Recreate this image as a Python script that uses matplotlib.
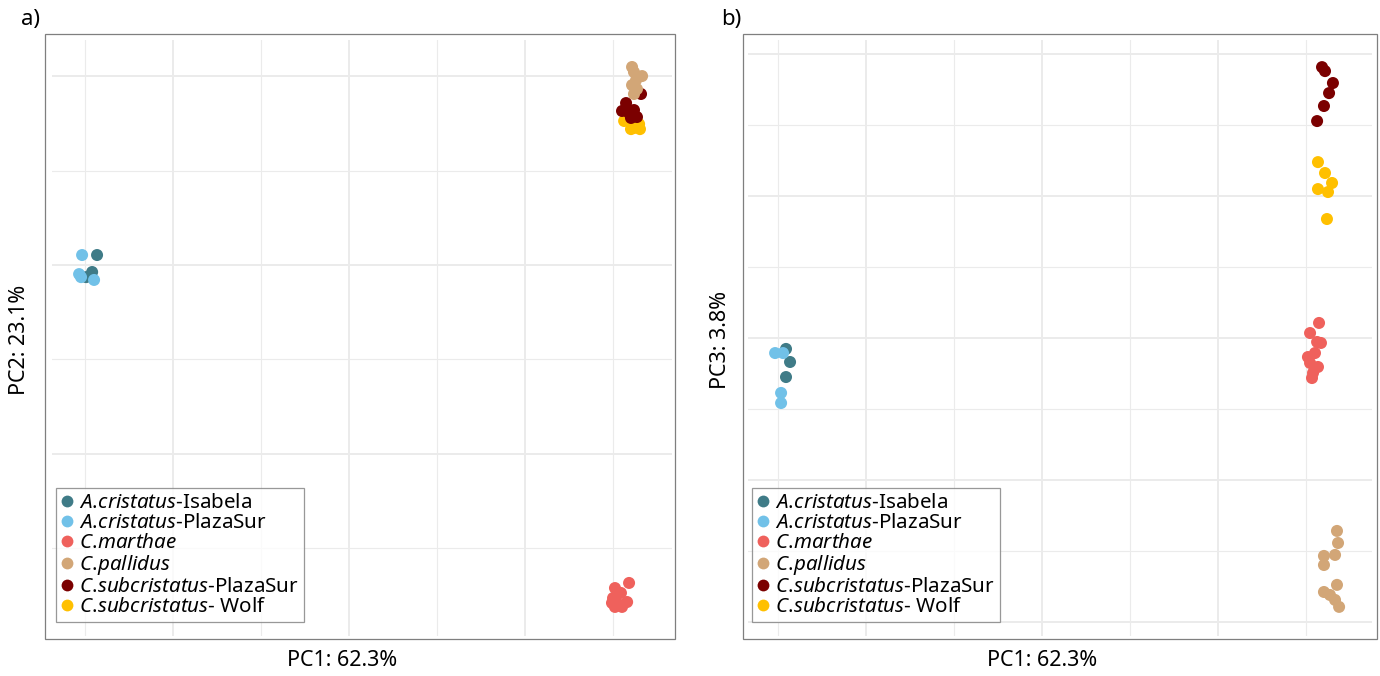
import matplotlib
matplotlib.use("Agg")
import matplotlib.pyplot as plt
from matplotlib.patches import Rectangle
from matplotlib.lines import Line2D

plt.rcParams['font.family'] = ['Noto Sans', 'DejaVu Sans']
plt.rcParams['mathtext.fontset'] = 'custom'
plt.rcParams['mathtext.it'] = 'Noto Sans:italic'
plt.rcParams['mathtext.rm'] = 'Noto Sans'

# group names and colours (legend order)
groups = ['A.cristatus-Isabela', 'A.cristatus-PlazaSur', 'C.marthae',
          'C.pallidus', 'C.subcristatus-PlazaSur', 'C.subcristatus- Wolf']
labels = [r'$\mathit{A.\!cristatus}$-Isabela', r'$\mathit{A.\!cristatus}$-PlazaSur',
          r'$\mathit{C.\!marthae}$', r'$\mathit{C.\!pallidus}$',
          r'$\mathit{C.\!subcristatus}$-PlazaSur', r'$\mathit{C.\!subcristatus}$- Wolf']
colors = ['#3F7B87', '#71C1E8', '#EF615C', '#D2A677', '#7B0000', '#FFC000']

# PC1 / PC2 scores
pc1_a = {
    'A.cristatus-Isabela': [-0.1432, -0.1460, -0.1494],
    'A.cristatus-PlazaSur': [-0.1517, -0.1534, -0.1523, -0.1449],
    'C.marthae': [0.1591, 0.1511, 0.1545, 0.1500, 0.1580, 0.1523, 0.1494, 0.1551, 0.1511],
    'C.pallidus': [0.1608, 0.1619, 0.1665, 0.1631, 0.1608, 0.1636, 0.1619],
    'C.subcristatus-PlazaSur': [0.1659, 0.1574, 0.1551, 0.1619, 0.1636, 0.1602, 0.1591],
    'C.subcristatus- Wolf': [0.1563, 0.1619, 0.1653, 0.1602, 0.1648],
}
pc2_a = {
    'A.cristatus-Isabela': [0.0053, -0.0037, -0.0064],
    'A.cristatus-PlazaSur': [0.0053, -0.0048, -0.0064, -0.0079],
    'C.marthae': [-0.1684, -0.1711, -0.1737, -0.1764, -0.1785, -0.1790, -0.1790, -0.1811, -0.1811],
    'C.pallidus': [0.1049, 0.1022, 0.1001, 0.0980, 0.0953, 0.0932, 0.0906],
    'C.subcristatus-PlazaSur': [0.0906, 0.0858, 0.0816, 0.0821, 0.0784, 0.0779, 0.0805],
    'C.subcristatus- Wolf': [0.0763, 0.0726, 0.0720, 0.0720, 0.0747],
}

# PC1 / PC3 scores
pc1_b = {
    'A.cristatus-Isabela': [-0.1455, -0.1432, -0.1455],
    'A.cristatus-PlazaSur': [-0.1517, -0.1472, -0.1483, -0.1483],
    'C.marthae': [0.1574, 0.1523, 0.1563, 0.1585, 0.1551, 0.1511, 0.1523, 0.1568, 0.1540, 0.1534],
    'C.pallidus': [0.1676, 0.1682, 0.1665, 0.1602, 0.1602, 0.1676, 0.1602, 0.1636, 0.1665, 0.1688],
    'C.subcristatus-PlazaSur': [0.1591, 0.1608, 0.1653, 0.1631, 0.1602, 0.1563],
    'C.subcristatus- Wolf': [0.1568, 0.1608, 0.1648, 0.1568, 0.1625, 0.1619],
}
pc3_b = {
    'A.cristatus-Isabela': [-0.0077, -0.0169, -0.0275],
    'A.cristatus-PlazaSur': [-0.0106, -0.0106, -0.0387, -0.0458],
    'C.marthae': [0.0106, 0.0035, -0.0028, -0.0035, -0.0106, -0.0134, -0.0176, -0.0204, -0.0246, -0.0282],
    'C.pallidus': [-0.1359, -0.1444, -0.1528, -0.1535, -0.1599, -0.1739, -0.1789, -0.1810, -0.1845, -0.1894],
    'C.subcristatus-PlazaSur': [0.1908, 0.1880, 0.1796, 0.1725, 0.1634, 0.1528],
    'C.subcristatus- Wolf': [0.1239, 0.1162, 0.1092, 0.1049, 0.1028, 0.0838],
}

# drawing order (later ones on top)
draw_order = ['C.marthae', 'C.subcristatus- Wolf', 'C.subcristatus-PlazaSur',
              'C.pallidus', 'A.cristatus-Isabela', 'A.cristatus-PlazaSur']

W, H = 1380, 676
fig = plt.figure(figsize=(W / 100, H / 100), dpi=100)


def px_box(x0, y0, x1, y1):
    return [x0 / W, 1 - y1 / H, (x1 - x0) / W, (y1 - y0) / H]


def setup(ax, xlim, ylim, xmaj, xmin, ymaj, ymin):
    ax.set_xlim(*xlim)
    ax.set_ylim(*ylim)
    ax.set_xticks(xmaj)
    ax.set_xticks(xmin, minor=True)
    ax.set_yticks(ymaj)
    ax.set_yticks(ymin, minor=True)
    ax.grid(which='major', color='#EBEBEB', linewidth=1.4)
    ax.grid(which='minor', color='#EBEBEB', linewidth=0.8)
    ax.set_axisbelow(True)
    ax.tick_params(which='both', length=0, labelbottom=False, labelleft=False)
    for s in ax.spines.values():
        s.set_visible(False)


def draw(ax, xs, ys):
    for g in draw_order:
        ax.scatter(xs[g], ys[g], s=75, color=colors[groups.index(g)],
                   edgecolors='none', zorder=3)


handles = [Line2D([], [], marker='o', linestyle='none', markersize=8.5,
                  markerfacecolor=c, markeredgecolor='none') for c in colors]

# panel a
ax_a = fig.add_axes(px_box(52, 40, 672, 636))
setup(ax_a, (-0.1688, 0.1835), (-0.1965, 0.1192),
      [-0.1, 0, 0.1], [-0.15, -0.05, 0.05, 0.15],
      [-0.1, 0, 0.1], [-0.15, -0.05, 0.05])
draw(ax_a, pc1_a, pc2_a)
fig.patches.append(Rectangle((45 / W, 1 - 639 / H), 630 / W, 605 / H,
                             transform=fig.transFigure, fill=False,
                             edgecolor='#7F7F7F', linewidth=0.9))

# panel b
ax_b = fig.add_axes(px_box(748, 40, 1372, 636))
setup(ax_b, (-0.1671, 0.1875), (-0.2099, 0.2099),
      [-0.1, 0, 0.1], [-0.15, -0.05, 0.05, 0.15],
      [-0.2, -0.1, 0, 0.1, 0.2], [-0.15, -0.05, 0.05, 0.15])
draw(ax_b, pc1_b, pc3_b)
fig.patches.append(Rectangle((743 / W, 1 - 639 / H), 634 / W, 605 / H,
                             transform=fig.transFigure, fill=False,
                             edgecolor='#7F7F7F', linewidth=0.9))

for lx in (56, 752):
    leg = fig.legend(handles, labels, loc='lower left',
                     bbox_to_anchor=(lx / W, 1 - 622 / H),
                     bbox_transform=fig.transFigure, borderaxespad=0,
                     fontsize=14.8, frameon=True, fancybox=False,
                     handlelength=0.55, handletextpad=0.3, labelspacing=0.0,
                     borderpad=0.25)
    leg.get_frame().set_edgecolor('#7F7F7F')
    leg.get_frame().set_linewidth(0.9)

# panel tags and axis titles
fig.text(31 / W, 1 - 19 / H, 'a)', fontsize=16, ha='center', va='center')
fig.text(731 / W, 1 - 19 / H, 'b)', fontsize=16, ha='center', va='center')
fig.text(342 / W, 1 - 661 / H, 'PC1: 62.3%', fontsize=15.5, ha='center', va='center')
fig.text(1042 / W, 1 - 661 / H, 'PC1: 62.3%', fontsize=15.5, ha='center', va='center')
fig.text(20 / W, 1 - 340 / H, 'PC2: 23.1%', fontsize=15.5, ha='center', va='center',
         rotation=90)
fig.text(720 / W, 1 - 340 / H, 'PC3: 3.8%', fontsize=15.5, ha='center', va='center',
         rotation=90)

fig.savefig('out.png', dpi=100)
